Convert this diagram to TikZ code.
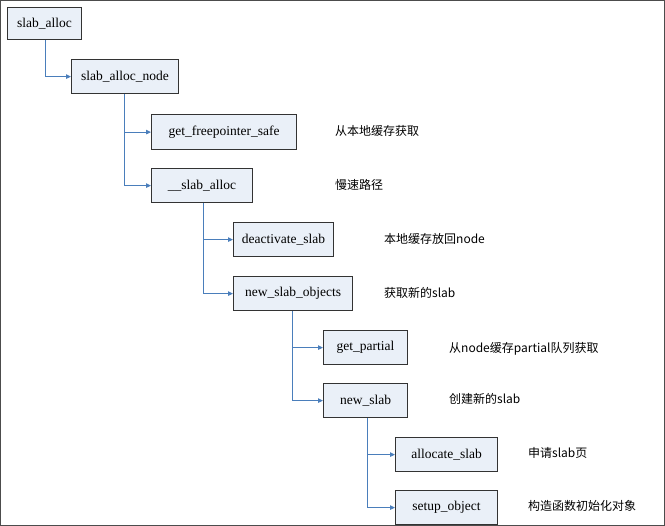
\documentclass[tikz,border=0pt]{standalone}
\usepackage{fontspec}
\setmainfont{Liberation Serif}
\newfontfamily\cjk{Noto Sans CJK SC}
\usetikzlibrary{arrows.meta}
\definecolor{boxfill}{HTML}{EAF0F8}
\definecolor{lnk}{HTML}{4A7EBB}
\begin{document}
\begin{tikzpicture}[x=1pt,y=-1pt,
  box/.style={draw=black!80,line width=1.2pt,fill=boxfill,anchor=north west,inner sep=0pt,font=\fontsize{13.5}{15}\selectfont},
  lab/.style={anchor=west,font=\cjk\fontsize{12}{14}\selectfont,inner sep=0pt},
  conn/.style={draw=lnk,line width=0.9pt,-{Triangle[length=5pt,width=4.5pt]}}]
\draw[draw=black!70,line width=0.8pt,fill=white] (0.5,0.5) rectangle (664.5,525.5);
\useasboundingbox (0,0) rectangle (665,526);
\newcommand\bx[6]{\node[box,minimum width=#4pt,minimum height=#5pt] (#1) at (#2,#3) {#6};}
\bx{a}{7}{7}{74}{32}{slab\_alloc}
\bx{b}{71}{59}{107}{34}{slab\_alloc\_node}
\bx{c}{151}{114}{145}{35}{get\_freepointer\_safe}
\bx{d}{151}{168}{101}{34}{\_\_slab\_alloc}
\bx{e}{233}{222}{100}{34}{deactivate\_slab}
\bx{f}{233}{276}{119}{34}{new\_slab\_objects}
\bx{g}{323}{330}{84}{34}{get\_partial}
\bx{h}{323}{383}{84}{34}{new\_slab}
\bx{i}{395}{437}{102}{34}{allocate\_slab}
\bx{j}{395}{490}{102}{34}{setup\_object}
\coordinate (ka) at (45,0); \coordinate (kb) at (124,0); \coordinate (kd) at (203,0);
\coordinate (kf) at (292,0); \coordinate (kh) at (367,0);
\draw[conn] (ka |- a.south) |- (b.west);
\draw[conn] (kb |- b.south) |- (c.west);
\draw[conn] (kb |- b.south) |- (d.west);
\draw[conn] (kd |- d.south) |- (e.west);
\draw[conn] (kd |- d.south) |- (f.west);
\draw[conn] (kf |- f.south) |- (g.west);
\draw[conn] (kf |- f.south) |- (h.west);
\draw[conn] (kh |- h.south) |- (i.west);
\draw[conn] (kh |- h.south) |- (j.west);
\node[lab] (lc) at (335,131) {从本地缓存获取};
\node[lab] (ld) at (335,185) {慢速路径};
\node[lab] (le) at (384,239) {本地缓存放回node};
\node[lab] (lf) at (384,293) {获取新的slab};
\node[lab] (lg) at (449,349) {从node缓存partial队列获取};
\node[lab] (lh) at (449,399) {创建新的slab};
\node[lab] (li) at (528,453) {申请slab页};
\node[lab] (lj) at (528,506) {构造函数初始化对象};
\end{tikzpicture}
\end{document}
